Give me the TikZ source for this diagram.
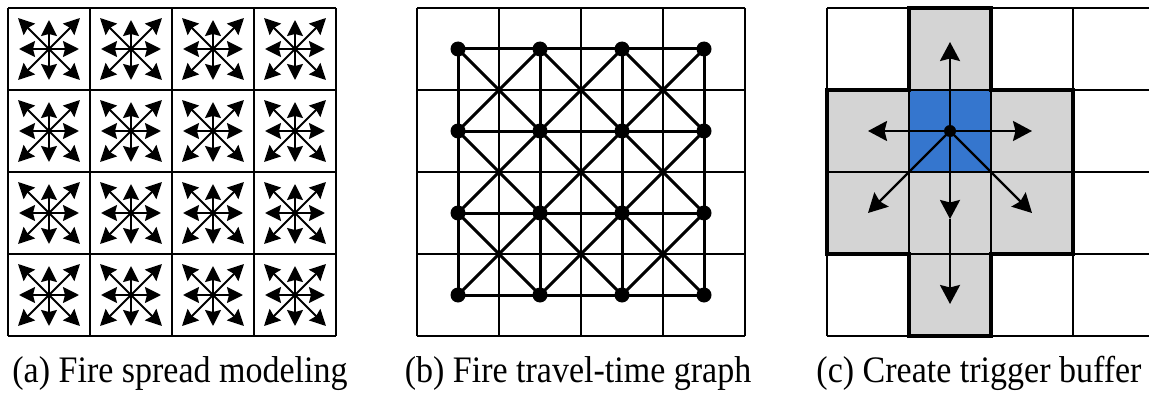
\documentclass[tikz,border=0pt]{standalone}
\usepackage{fontspec}
\setmainfont{Liberation Serif}
\usetikzlibrary{arrows.meta,calc}
\definecolor{fireblue}{RGB}{53,118,206}
\definecolor{buffergray}{RGB}{212,212,212}
\tikzset{
  gridline/.style={line width=1.8pt, black},
  outline/.style={line width=3.4pt, black, line join=miter},
  spreadarrow/.style={line width=2pt, -{Stealth[inset=2pt,length=16pt,width=16pt]}},
  triggerarrow/.style={line width=2.4pt, -{Stealth[inset=2.5pt,length=19pt,width=20pt]}},
  graphedge/.style={line width=3pt},
  vertex/.style={circle, fill=black, inner sep=0pt, minimum size=15pt},
  centerdot/.style={circle, fill=black, inner sep=0pt, minimum size=12pt},
  caption/.style={font=\fontsize{34}{40}\selectfont, anchor=base, inner sep=0pt, yscale=1.1},
}
\begin{document}
\begin{tikzpicture}[x=1pt,y=-1pt]
\useasboundingbox (0,0) rectangle (1149,396);
\fill[white] (0,0) rectangle (1149,396);

% ---------- panel (a)
\foreach \k in {0,...,4} {
  \draw[gridline] (8+82*\k,8) -- (8+82*\k,336);
  \draw[gridline] (8,8+82*\k) -- (336,8+82*\k);
}
\foreach \i in {0,...,3} {
  \foreach \j in {0,...,3} {
    \coordinate (a-\i-\j) at (49+82*\i,49+82*\j);
    \coordinate (aN-\i-\j) at ($(a-\i-\j)+(0,-29)$);
    \coordinate (aS-\i-\j) at ($(a-\i-\j)+(0,31)$);
    \coordinate (aW-\i-\j) at ($(a-\i-\j)+(-30,0)$);
    \coordinate (aE-\i-\j) at ($(a-\i-\j)+(30,0)$);
    \coordinate (aNW-\i-\j) at ($(a-\i-\j)+(-31,-31)$);
    \coordinate (aNE-\i-\j) at ($(a-\i-\j)+(31,-31)$);
    \coordinate (aSW-\i-\j) at ($(a-\i-\j)+(-31,31)$);
    \coordinate (aSE-\i-\j) at ($(a-\i-\j)+(31,31)$);
    \foreach \d in {N,S,W,E,NW,NE,SW,SE}
      \draw[spreadarrow] (a-\i-\j) -- (a\d-\i-\j);
  }
}
\node[caption] (capa) at (180,382) {(a) Fire spread modeling};

% ---------- panel (b)
\foreach \k in {0,...,4} {
  \draw[gridline] (417+82*\k,8) -- (417+82*\k,336);
  \draw[gridline] (417,8+82*\k) -- (745,8+82*\k);
}
\foreach \i in {0,...,3} {
  \foreach \j in {0,...,3} {
    \node[vertex] (b-\i-\j) at (458+82*\i,49+82*\j) {};
  }
}
\foreach \i [evaluate=\i as \ni using int(\i+1)] in {0,1,2} {
  \foreach \j in {0,...,3} {
    \draw[graphedge] (b-\i-\j.center) -- (b-\ni-\j.center);
    \draw[graphedge] (b-\j-\i.center) -- (b-\j-\ni.center);
  }
  \foreach \j [evaluate=\j as \nj using int(\j+1)] in {0,1,2} {
    \draw[graphedge] (b-\i-\j.center) -- (b-\ni-\nj.center);
    \draw[graphedge] (b-\ni-\j.center) -- (b-\i-\nj.center);
  }
}
\node[caption] (capb) at (578,382) {(b) Fire travel-time graph};

% ---------- panel (c)
\fill[buffergray] (909,8) rectangle (991,336);
\fill[buffergray] (827,90) rectangle (1073,254);
\fill[fireblue] (909,90) rectangle (991,172);
\foreach \k in {0,...,3} {
  \draw[gridline] (827+82*\k,8) -- (827+82*\k,336);
}
\foreach \k in {0,...,4} {
  \draw[gridline] (827,8+82*\k) -- (1149,8+82*\k);
}
\draw[outline] (909,8) -- (991,8) -- (991,90) -- (1073,90) -- (1073,254) -- (991,254)
  -- (991,336) -- (909,336) -- (909,254) -- (827,254) -- (827,90) -- (909,90) -- cycle;
\node[centerdot] (fire) at (950,131) {};
\coordinate (cN) at (950,42);
\coordinate (cW) at (868,131);
\coordinate (cE) at (1032,131);
\coordinate (cMid) at (950,219);
\coordinate (cS) at (950,304);
\coordinate (cSW) at (868,213);
\coordinate (cSE) at (1032,213);
\draw[triggerarrow] (fire.center) -- (cN);
\draw[triggerarrow] (fire.center) -- (cW);
\draw[triggerarrow] (fire.center) -- (cE);
\draw[triggerarrow] (fire.center) -- (cMid);
\draw[triggerarrow] (cMid) -- (cS);
\draw[triggerarrow] (fire.center) -- (cSW);
\draw[triggerarrow] (fire.center) -- (cSE);
\node[caption] (capc) at (979,382) {(c) Create trigger buffer};
\end{tikzpicture}
\end{document}
